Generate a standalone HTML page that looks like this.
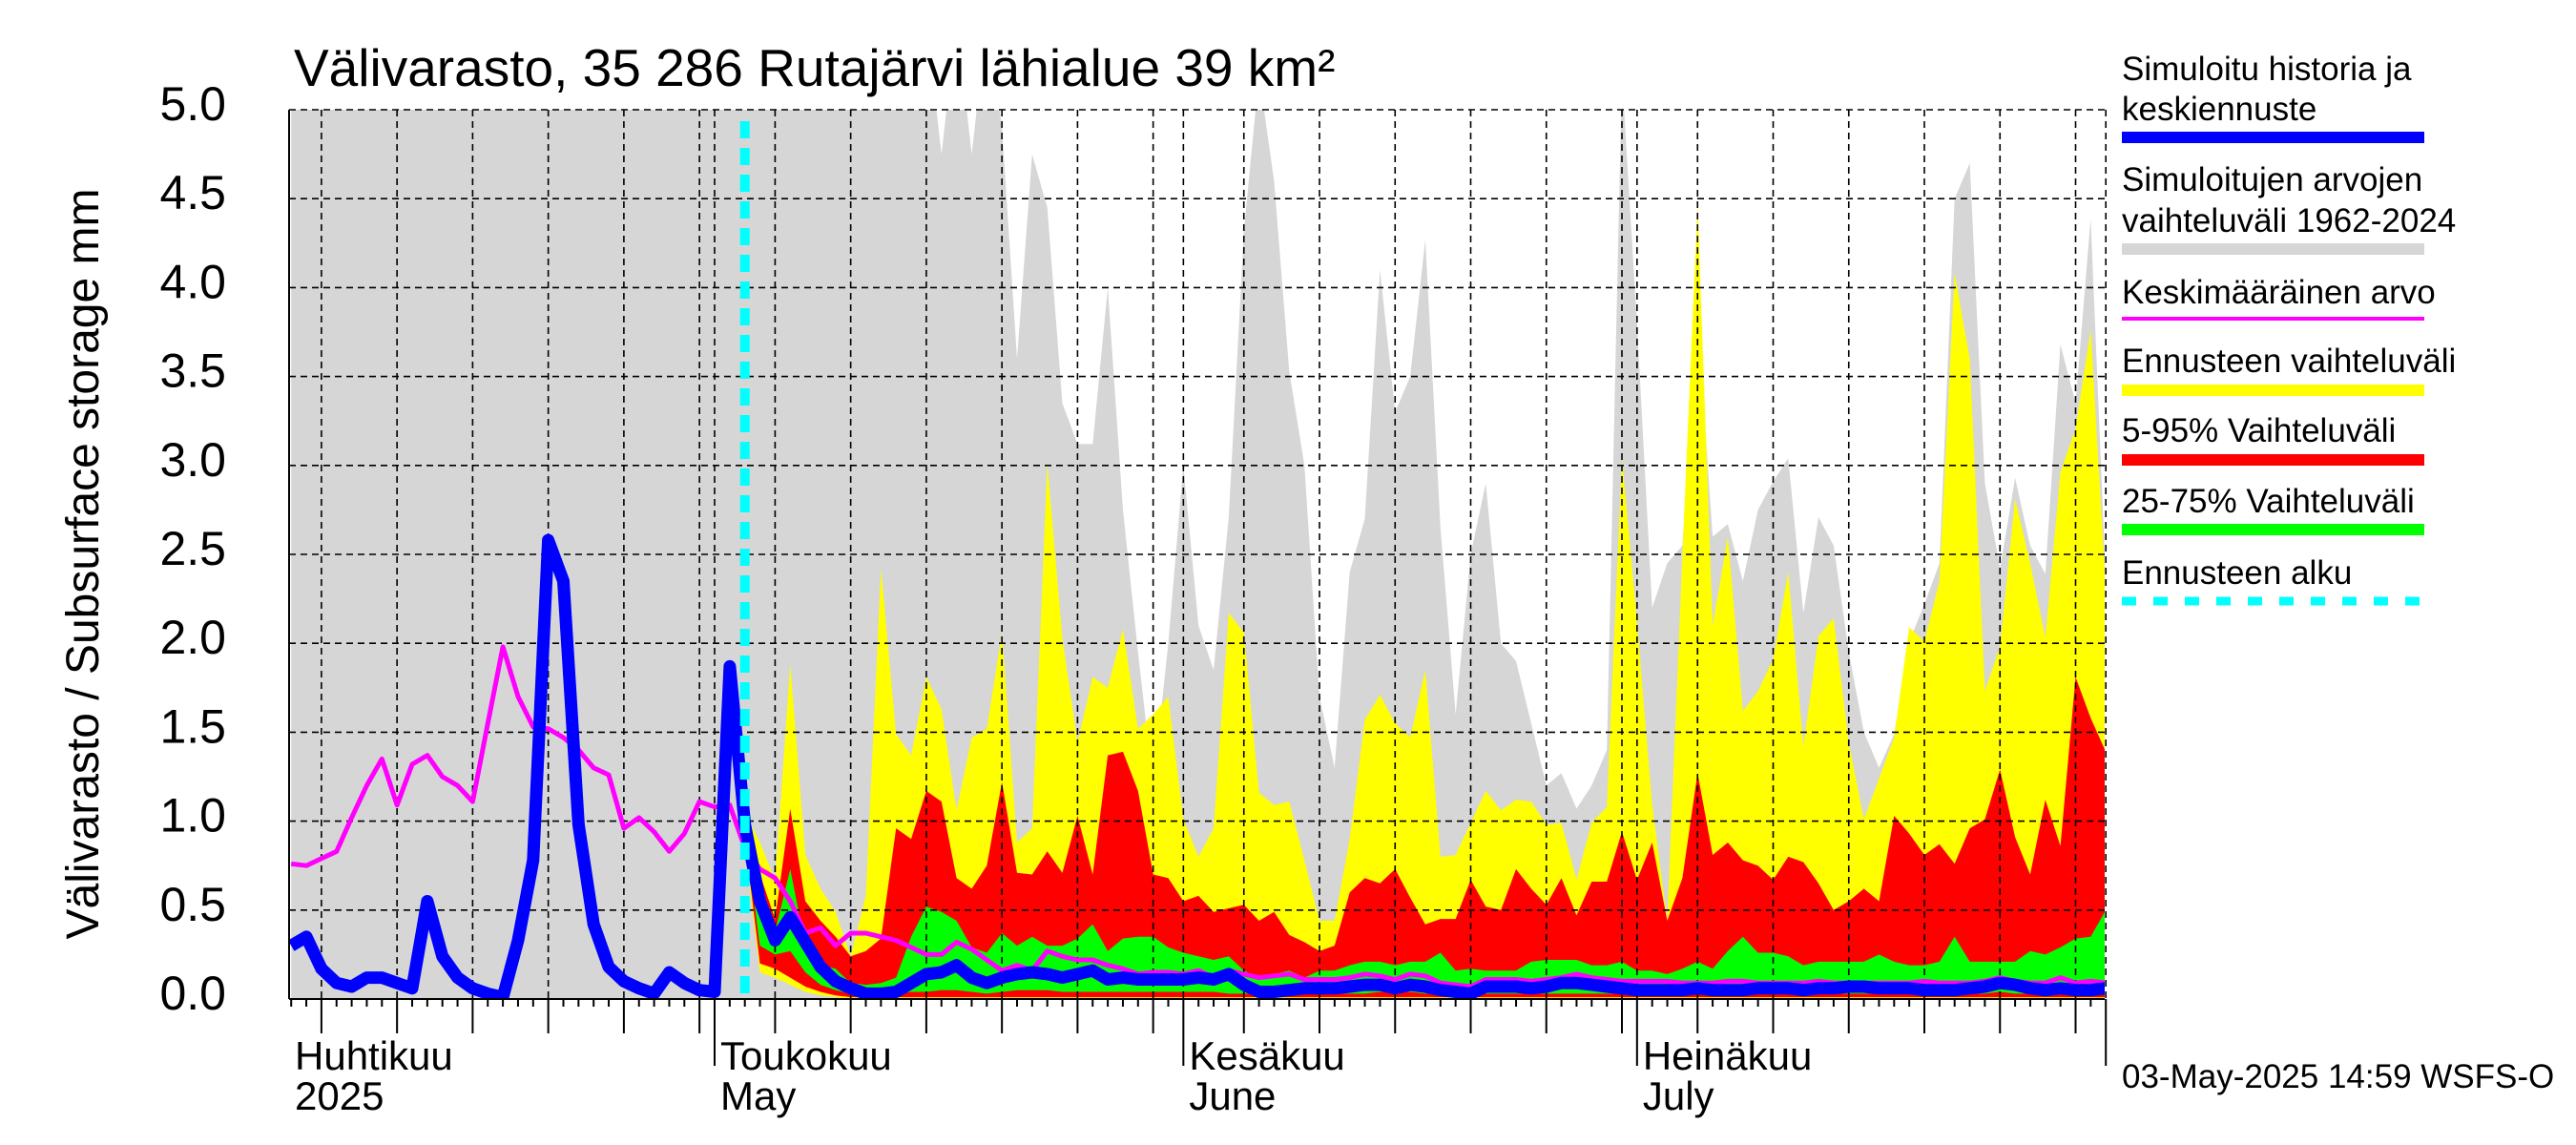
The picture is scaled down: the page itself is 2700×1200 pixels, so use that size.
<!DOCTYPE html>
<html><head><meta charset="utf-8"><style>
html,body{margin:0;padding:0;background:#fff;}
svg{display:block;font-family:"Liberation Sans",Arial,sans-serif;}
</style></head><body>
<svg id="chart" width="2700" height="1200" viewBox="0 0 2700 1200" xmlns="http://www.w3.org/2000/svg">
<defs><clipPath id="plotclip"><rect x="303" y="115" width="1903" height="932"/></clipPath></defs>
<text x="308" y="90" font-size="55">Välivarasto, 35 286 Rutajärvi lähialue 39 km²</text>
<text transform="translate(103,591) rotate(-90)" text-anchor="middle" font-size="48">Välivarasto / Subsurface storage  mm</text>
<g id="fills" clip-path="url(#plotclip)"></g>
<g id="grid"></g>
<g id="lines" clip-path="url(#plotclip)"></g>
<g id="axes"></g>
<g font-size="35">
<text x="2224" y="84">Simuloitu historia ja</text>
<text x="2224" y="126">keskiennuste</text>
<rect x="2224" y="138" width="317" height="12" fill="#0000ff"/>
<text x="2224" y="200">Simuloitujen arvojen</text>
<text x="2224" y="243">vaihteluväli 1962-2024</text>
<rect x="2224" y="255" width="317" height="12" fill="#d6d6d6"/>
<text x="2224" y="318">Keskimääräinen arvo</text>
<rect x="2224" y="332" width="317" height="4" fill="#ff00ff"/>
<text x="2224" y="390">Ennusteen vaihteluväli</text>
<rect x="2224" y="403" width="317" height="12" fill="#ffff00"/>
<text x="2224" y="463">5-95% Vaihteluväli</text>
<rect x="2224" y="476" width="317" height="12" fill="#ff0000"/>
<text x="2224" y="537">25-75% Vaihteluväli</text>
<rect x="2224" y="549" width="317" height="12" fill="#00ff00"/>
<text x="2224" y="612">Ennusteen alku</text>
<line x1="2224" y1="630" x2="2541" y2="630" stroke="#00ffff" stroke-width="9" stroke-dasharray="15,18"/>
</g>
<text x="2224" y="1140" font-size="35">03-May-2025 14:59 WSFS-O</text>
</svg>
<script>
// day index: days since 1 May 2025, from -28 to 92
const dayStart = -28;
const forecastStartDay = 2;
const yTicks = [0.0,0.5,1.0,1.5,2.0,2.5,3.0,3.5,4.0,4.5,5.0];
const yTickLabels = ["0.0","0.5","1.0","1.5","2.0","2.5","3.0","3.5","4.0","4.5","5.0"];
const monthStarts = [-30,0,31,61,92];
const monthLabels1 = ["Huhtikuu","Toukokuu","Kesäkuu","Heinäkuu"];
const monthLabels2 = ["2025","May","June","July"];
const simMedian = [
0.30,0.35,0.17,0.09,0.07,0.12,0.12,0.09,0.06,0.55,0.24,0.12,0.06,0.03,0.01,0.33,0.78,2.58,2.35,0.98,0.42,0.18,0.10,0.06,0.03,0.15,0.09,0.05,
0.04,1.87,0.98,0.55,0.33,0.46,0.32,0.18,0.10,0.06,0.03,0.03,0.04,0.09,0.14,0.15,0.19,0.12,0.09,0.12,0.14,0.15,0.14,0.12,0.14,0.16,0.11,0.12,0.11,0.11,0.11,0.11,0.12,0.11,
0.14,0.08,0.04,0.04,0.05,0.06,0.06,0.06,0.07,0.08,
0.08,0.06,0.08,0.07,0.05,0.04,0.03,0.07,0.07,0.07,
0.06,0.07,0.09,0.09,0.08,0.07,0.06,0.05,0.05,0.05,
0.05,0.06,0.05,0.05,0.05,0.06,0.06,0.06,0.05,0.06,
0.06,0.07,0.07,0.06,0.06,0.06,0.05,0.05,0.05,0.06,
0.07,0.09,0.08,0.06,0.05,0.06,0.05,0.05,0.06];
const meanVals = [
0.76,0.75,0.79,0.83,1.02,1.20,1.35,1.09,1.32,1.37,1.25,1.20,1.11,1.55,1.98,1.70,1.53,1.52,1.47,1.40,1.30,1.26,0.96,1.02,0.94,0.83,0.93,1.11,
1.08,1.09,0.85,0.73,0.68,0.55,0.37,0.40,0.30,0.37,0.37,0.35,0.33,0.29,0.25,0.25,0.32,0.28,0.22,0.16,0.19,0.16,0.27,0.24,0.22,0.22,0.19,0.17,0.14,0.15,0.15,0.14,0.16,0.12,
0.16,0.14,0.12,0.13,0.14,0.11,0.11,0.11,0.12,0.14,
0.13,0.11,0.14,0.13,0.09,0.08,0.07,0.11,0.11,0.11,
0.10,0.11,0.12,0.14,0.12,0.11,0.10,0.10,0.10,0.10,
0.09,0.09,0.09,0.10,0.10,0.09,0.09,0.09,0.09,0.10,
0.09,0.09,0.09,0.09,0.09,0.09,0.10,0.09,0.09,0.09,
0.10,0.12,0.10,0.09,0.09,0.12,0.09,0.10,0.09];
const histMax = [
5.5,5.5,5.5,5.5,5.5,5.5,5.5,5.5,5.5,5.5,5.5,5.5,5.5,5.5,5.5,5.5,5.5,5.5,5.5,5.5,5.5,5.5,5.5,5.5,5.5,5.5,5.5,5.5,
5.5,5.5,5.5,5.5,5.5,5.5,5.5,5.5,5.5,5.5,5.5,5.5,
5.5,5.5,5.5,4.75,5.5,4.75,5.5,4.9,3.6,4.75,4.45,3.35,3.12,3.12,4.0,2.75,1.95,1.2,2.0,3.0,2.1,1.85,
2.71,4.32,5.2,4.6,3.53,3.0,1.7,1.3,2.4,2.7,
4.1,3.3,3.5,4.27,2.65,1.6,2.5,2.9,2.0,1.9,
1.55,1.2,1.27,1.07,1.2,1.4,5.2,3.8,2.2,2.45,
2.55,
3.83,2.6,2.67,2.35,2.75,2.91,3.04,2.17,2.71,2.55,
1.95,1.5,1.3,1.49,2.01,2.22,2.45,4.5,4.7,2.9,
2.42,2.93,2.55,2.39,3.68,3.35,4.39,2.35];
// forecast arrays start at forecastStartDay (d=2)
const fcMax = [
1.05,0.88,0.67,1.88,0.81,0.62,0.49,0.24,0.58,2.42,
1.49,1.37,1.81,1.63,1.06,1.47,1.52,2.06,0.88,0.96,
3.01,2.03,1.44,1.81,1.75,2.08,1.52,1.6,1.70,1.01,
0.80,0.96,2.17,2.06,1.16,1.09,1.11,0.78,0.44,0.44,
0.9,1.57,1.71,1.55,1.47,1.85,0.8,0.81,0.99,1.17,
1.06,1.12,1.11,0.98,0.99,0.67,0.99,1.08,3.04,2.12,
1.09,0.44,2.5,4.47,2.1,2.6,1.62,1.73,1.91,2.4,
1.42,2.04,2.14,1.44,1.01,1.24,1.47,2.09,2.01,2.35,
4.08,3.6,1.73,1.98,2.81,2.45,2.03,2.96,3.21,3.76,2.3];
const p95 = [
1.0,0.7,0.45,1.07,0.55,0.44,0.35,0.24,0.27,0.34,
0.96,0.90,1.17,1.11,0.68,0.62,0.75,1.22,0.71,0.70,
0.83,0.71,1.03,0.70,1.37,1.39,1.17,0.70,0.68,0.55,
0.58,0.49,0.51,0.53,0.44,0.49,0.36,0.32,0.27,0.30,
0.60,0.68,0.65,0.73,0.57,0.42,0.45,0.45,0.67,0.52,
0.50,0.73,0.62,0.53,0.68,0.47,0.66,0.66,0.94,0.67,
0.88,0.44,0.68,1.27,0.81,0.88,0.78,0.75,0.67,0.8,
0.77,0.65,0.5,0.55,0.62,0.55,1.03,0.93,0.81,0.87,
0.76,0.96,1.01,1.29,0.91,0.70,1.12,0.86,1.81,1.58,1.39];
const p75 = [
0.98,0.6,0.38,0.73,0.30,0.19,0.17,0.09,0.08,0.09,
0.12,0.35,0.52,0.49,0.44,0.29,0.26,0.37,0.30,0.35,
0.30,0.30,0.34,0.42,0.27,0.34,0.35,0.35,0.29,0.26,
0.24,0.22,0.24,0.16,0.12,0.14,0.16,0.12,0.16,0.16,
0.19,0.21,0.21,0.19,0.21,0.21,0.26,0.16,0.17,0.16,
0.16,0.16,0.21,0.22,0.22,0.22,0.19,0.19,0.21,0.16,
0.16,0.14,0.17,0.21,0.17,0.27,0.35,0.26,0.26,0.24,
0.19,0.21,0.21,0.21,0.21,0.25,0.21,0.19,0.19,0.21,
0.35,0.21,0.21,0.21,0.21,0.27,0.25,0.29,0.34,0.35,0.50];
const p25 = [
0.95,0.30,0.25,0.27,0.15,0.08,0.05,0.03,0.03,0.03,
0.03,0.04,0.04,0.05,0.05,0.04,0.03,0.04,0.05,0.05,
0.05,0.04,0.04,0.04,0.04,0.04,0.04,0.04,0.04,0.04,
0.04,0.04,0.03,0.03,0.03,0.03,0.03,0.03,0.03,0.03,
0.03,0.03,0.04,0.04,0.04,0.03,0.03,0.03,0.03,0.03,
0.03,0.03,0.03,0.03,0.03,0.03,0.03,0.03,0.03,0.03,
0.03,0.03,0.03,0.03,0.03,0.03,0.03,0.03,0.03,0.03,
0.03,0.03,0.03,0.03,0.03,0.03,0.03,0.03,0.03,0.03,
0.03,0.03,0.03,0.04,0.03,0.03,0.03,0.03,0.03,0.03,0.03];
const p05 = [
0.90,0.20,0.17,0.12,0.07,0.04,0.02,0.01,0.01,0.01,
0.01,0.01,0.01,0.01,0.01,0.01,0.01,0.01,0.01,0.01,
0.01,0.01,0.01,0.01,0.01,0.01,0.01,0.01,0.01,0.01,
0.01,0.01,0.01,0.01,0.01,0.01,0.01,0.01,0.01,0.01,
0.01,0.01,0.01,0.01,0.01,0.01,0.01,0.01,0.01,0.01,
0.01,0.01,0.01,0.01,0.01,0.01,0.01,0.01,0.01,0.01,
0.01,0.01,0.01,0.01,0.01,0.01,0.01,0.01,0.01,0.01,
0.01,0.01,0.01,0.01,0.01,0.01,0.01,0.01,0.01,0.01,
0.01,0.01,0.01,0.01,0.01,0.01,0.01,0.01,0.01,0.01,0.01];
const fcMin = [
0.85,0.15,0.12,0.08,0.04,0.02,0.01,0,0,0,
0,0,0,0,0,0,0,0,0,0,
0,0,0,0,0,0,0,0,0,0,
0,0,0,0,0,0,0,0,0,0,
0,0,0,0,0,0,0,0,0,0,
0,0,0,0,0,0,0,0,0,0,
0,0,0,0,0,0,0,0,0,0,
0,0,0,0,0,0,0,0,0,0,
0,0,0,0,0,0,0,0,0,0,0];

const NS = "http://www.w3.org/2000/svg";
const X0 = 749, PXD = 15.85, Y0 = 1047, PXV = 186.4;
function xAt(d){ return X0 + d*PXD; }
function yAt(v){ return Y0 - v*PXV; }
function mk(tag, attrs, parent){ const e = document.createElementNS(NS, tag); for (const k in attrs) e.setAttribute(k, attrs[k]); parent.appendChild(e); return e; }

const fills = document.getElementById('fills');
const grid = document.getElementById('grid');
const lines = document.getElementById('lines');
const axes = document.getElementById('axes');

function band(upper, lower, start, color, name){
  const pts = [];
  for (let i=0;i<upper.length;i++) pts.push(xAt(start+i).toFixed(1)+','+yAt(upper[i]).toFixed(1));
  for (let i=lower.length-1;i>=0;i--) pts.push(xAt(start+i).toFixed(1)+','+yAt(lower[i]).toFixed(1));
  const p = mk('polygon', {points: pts.join(' '), fill: color}, fills);
  
  
}
const histMin = histMax.map(()=>0);
band(histMax, histMin, dayStart, '#d6d6d6', 'historical-range-band');
band(fcMax, fcMin, forecastStartDay, '#ffff00', 'forecast-range-band');
band(p95, p05, forecastStartDay, '#ff0000', 'band-5-95');
band(p75, p25, forecastStartDay, '#00ff00', 'band-25-75');

// grid
const xL = 303, xR = 2206, yT = 115;
for (let i=1;i<yTicks.length;i++){
  const y = yAt(yTicks[i]);
  const g = mk('line', {x1:xL, y1:y, x2:xR, y2:y, stroke:'#000', 'stroke-width':1.6, 'stroke-dasharray':'7,5'}, grid);
  
  
}
const gridDays = [];
for (let m=0;m<monthStarts.length-1;m++){
  const ms = monthStarts[m], len = monthStarts[m+1]-ms;
  [0,4,9,14,19,24,29].forEach(o=>{ if (o<len) gridDays.push(ms+o); });
}
gridDays.push(92);
gridDays.forEach(d=>{
  const x = xAt(d);
  if (x < xL+2 || x > xR+2) return;
  const g = mk('line', {x1:x, y1:yT, x2:x, y2:Y0, stroke:'#000', 'stroke-width':1.6, 'stroke-dasharray':'7,5'}, grid);
  
  
});

// lines
function poly(vals, start, color, w, name){
  const pts = vals.map((v,i)=>xAt(start+i).toFixed(1)+','+yAt(v).toFixed(1)).join(' ');
  const p = mk('polyline', {points: pts, fill:'none', stroke: color, 'stroke-width': w, 'stroke-linejoin':'round'}, lines);
  
  
}
poly(meanVals, dayStart, '#ff00ff', 5, 'mean-line');
poly(simMedian, dayStart, '#0000ff', 13, 'simulated-median-line');
const fs = mk('line', {x1:xAt(forecastStartDay), y1:127, x2:xAt(forecastStartDay), y2:Y0, stroke:'#00ffff', 'stroke-width':10, 'stroke-dasharray':'18,10'}, lines);



// axes
const la = mk('line', {x1:xL, y1:yT, x2:xL, y2:Y0, stroke:'#000', 'stroke-width':2}, axes);


const ba = mk('line', {x1:xL, y1:Y0, x2:xR, y2:Y0, stroke:'#000', 'stroke-width':2}, axes);


yTicks.forEach((v,i)=>{
  const t = mk('text', {x:237, y:yAt(v)+11, 'text-anchor':'end', 'font-size':50}, axes);
  t.textContent = yTickLabels[i];
  
  
});
for (let d=dayStart; d<=92; d++){
  const x = xAt(d);
  let len = 8;
  if (monthStarts.indexOf(d) >= 0) len = 70;
  else if (gridDays.indexOf(d) >= 0) len = 36;
  const t = mk('line', {x1:x, y1:Y0, x2:x, y2:Y0+len, stroke:'#000', 'stroke-width':2}, axes);
  
  
}
for (let m=0;m<monthLabels1.length;m++){
  const x = Math.max(xAt(monthStarts[m]), xL) + 6;
  const a = mk('text', {x:x, y:1121, 'font-size':42}, axes);
  a.textContent = monthLabels1[m];
  
  
  const b = mk('text', {x:x, y:1163, 'font-size':42}, axes);
  b.textContent = monthLabels2[m];
  
  
}
</script>
</body></html>
